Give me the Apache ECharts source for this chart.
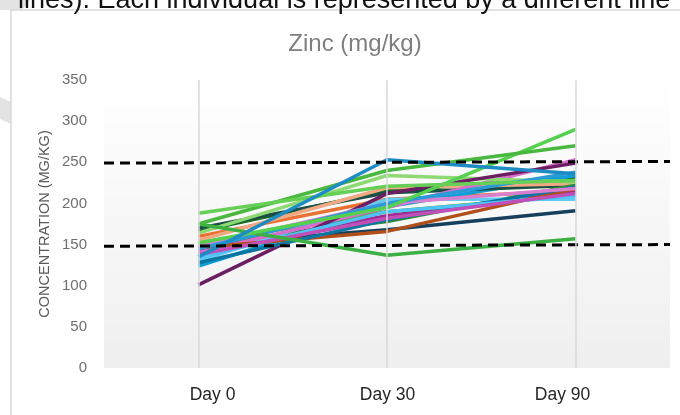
<!DOCTYPE html>
<html><head><meta charset="utf-8">
<script src="https://cdn.jsdelivr.net/npm/echarts@6/dist/echarts.min.js"></script>
<style>html,body{margin:0;padding:0;background:#fff}#c{width:680px;height:415px}</style>
</head><body><div id="c"></div>
<script>
const categories = ['Day 0', 'Day 30', 'Day 90'];
const yMin = 0, yMax = 350, yStep = 50;
const titleText = 'Zinc (mg/kg)';
const yName = 'CONCENTRATION (MG/KG)';
const captionText = 'lines). Each individual is represented by a different line';

// Reference limits (dashed), as [start, end] values
const upperLimit = [249, 251];
const lowerLimit = [148, 150];

// Individuals (Day 0, Day 30, Day 90)
const ind01 = [150, 168, 191];
const ind02 = [160, 205, 215];
const ind03 = [166, 215, 232];
const ind04 = [124, 196, 234];
const ind05 = [143, 185, 214];
const ind06 = [152, 190, 210];
const ind07 = [170, 213, 222];
const ind08 = [155, 219, 224];
const ind09 = [150, 178, 222];
const ind10 = [130, 205, 205];
const ind11 = [140, 195, 253];
const ind12 = [164, 234, 226];
const ind13 = [101, 212, 249];
const ind14 = [146, 166, 218];
const ind15 = [128, 180, 220];
const ind16 = [134, 190, 209];
const ind17 = [148, 200, 218];
const ind18 = [138, 182, 212];
const ind19 = [145, 200, 238];
const ind20 = [175, 137, 157];
const ind21 = [152, 195, 290];
const ind22 = [175, 240, 270];
const ind23 = [188, 221, 228];
const ind24 = [135, 253, 236];

const individuals = [ind01, ind02, ind03, ind04, ind05, ind06, ind07, ind08, ind09, ind10, ind11, ind12,
  ind13, ind14, ind15, ind16, ind17, ind18, ind19, ind20, ind21, ind22, ind23, ind24];
const colors = ['#163f5e', '#e97132', '#196b24', '#0f9ed5', '#a02b93', '#4ea72e', '#1b4f45', '#f1a983',
  '#2f8f3a', '#61cbf3', '#d86dcb', '#8ed973', '#6b1f62', '#b04f1a', '#0b76a0', '#4fc3f7', '#d97fd0',
  '#c14fb8', '#2a9bd8', '#3cb043', '#55d04f', '#49b83f', '#66cf55', '#1e8cc4'];

const chart = echarts.init(document.getElementById('c'));
const series = [];
series.push({
  type: 'line', xAxisIndex: 0, yAxisIndex: 0, data: categories.map(() => null), z: 1, silent: true,
  markLine: {
    silent: true, symbol: 'none', label: { show: false },
    lineStyle: { color: '#d9d9d9', width: 1.5, type: 'solid' },
    data: categories.map(c => ({ xAxis: c }))
  }
});
individuals.forEach((d, i) => {
  series.push({
    type: 'line', xAxisIndex: 0, yAxisIndex: 0, data: d, symbol: 'none', z: 2,
    lineStyle: { color: colors[i], width: 3.5 }, itemStyle: { color: colors[i] }
  });
});
[upperLimit, lowerLimit].forEach(lim => {
  series.push({
    type: 'line', xAxisIndex: 1, yAxisIndex: 0, symbol: 'none', z: 3,
    data: [[0, lim[0]], [1, lim[1]]],
    lineStyle: { color: '#000', width: 3, type: [10, 6] }
  });
});

chart.setOption({
  animation: false,
  backgroundColor: '#fff',
  title: {
    text: titleText, left: 350, top: 27, textAlign: 'center',
    textStyle: { color: '#7f7f7f', fontSize: 24, fontWeight: 'normal', fontFamily: 'Liberation Sans, sans-serif' }
  },
  graphic: [
    { type: 'polygon', shape: { points: [[0, 0], [30, 0], [22, 10], [0, 10]] }, style: { fill: '#e3e3e3' }, z: -1 },
    { type: 'polygon', shape: { points: [[0, 97], [11, 102], [11, 124], [0, 119]] }, style: { fill: '#e3e3e3' }, z: -1 },
    { type: 'rect', shape: { x: 11, y: 10, width: 700, height: 420 }, style: { fill: 'none', stroke: '#d9d9d9', lineWidth: 1.5 }, z: 0 },
    { type: 'text', style: { text: captionText, x: 18, y: 14, verticalAlign: 'bottom', font: '27px "Liberation Sans", sans-serif', fill: '#111' }, z: 5 },
    { type: 'text', rotation: Math.PI / 2, x: 45, y: 224,
      style: { text: yName, align: 'center', verticalAlign: 'middle', font: '14.5px "Liberation Sans", sans-serif', fill: '#595959' } }
  ],
  grid: [
    { left: 104, right: 10, top: 80, bottom: 47, show: true, borderWidth: 0,
      backgroundColor: new echarts.graphic.LinearGradient(0, 0, 0, 1, [{ offset: 0, color: '#ffffff' }, { offset: 1, color: '#efefef' }]) },
    { left: 125, right: 30, top: 80, bottom: 47 }
  ],
  xAxis: [
    { type: 'category', gridIndex: 0, data: categories, boundaryGap: true,
      axisLine: { show: false }, axisTick: { show: false }, axisLabel: { show: false }, splitLine: { show: false } },
    { type: 'value', gridIndex: 0, min: 0, max: 1, show: false },
    { type: 'category', gridIndex: 1, data: categories, boundaryGap: true,
      axisLine: { show: false }, axisTick: { show: false }, splitLine: { show: false },
      axisLabel: { color: '#262626', fontSize: 17.5, margin: 18, fontFamily: 'Liberation Sans, sans-serif' } }
  ],
  yAxis: [
    { type: 'value', gridIndex: 0, min: yMin, max: yMax, interval: yStep,
      axisLine: { show: false }, axisTick: { show: false }, splitLine: { show: false },
      axisLabel: { color: '#6f6f6f', fontSize: 15, margin: 17, fontFamily: 'Liberation Sans, sans-serif' } },
    { type: 'value', gridIndex: 1, min: 0, max: 1, show: false }
  ],
  series: series
});
</script></body></html>
